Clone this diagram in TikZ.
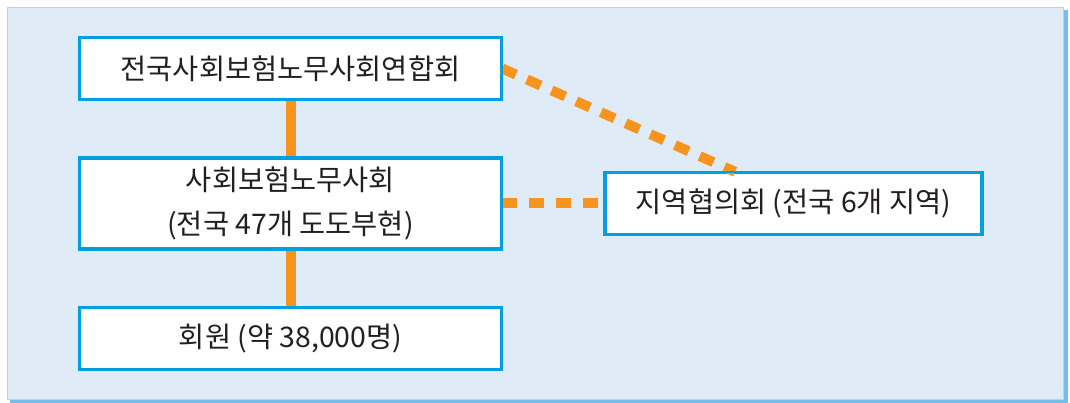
\documentclass[tikz,border=0pt]{standalone}
\usepackage{fontspec}
\setmainfont{Noto Sans CJK KR}
\usepackage{tikz}
\definecolor{bgblue}{HTML}{DFEBF7}
\definecolor{shadowblue}{HTML}{73BEEB}
\definecolor{boxblue}{HTML}{00A0E0}
\definecolor{linkorange}{HTML}{F7941D}
\definecolor{txt}{HTML}{231F20}
\tikzset{
  orgbox/.style={draw=boxblue,line width=1.7pt,fill=white,text=txt,
    minimum width=10.525cm,minimum height=1.525cm,inner sep=0pt,align=center,
    font=\fontsize{20.2}{31}\selectfont},
  solidlink/.style={draw=linkorange,line width=0.25cm},
  dotlink/.style={draw=linkorange,line width=0.25cm,dash pattern=on 0.375cm off 0.3cm}
}

\begin{document}
\begin{tikzpicture}
            \useasboundingbox (0,0) rectangle (26.75,10.075);
            % background panel with its shadow
            \fill[shadowblue] (0.25,0) rectangle (26.7,9.825);
            \filldraw[fill=bgblue,draw=shadowblue!60,line width=0.4pt] (0.175,0.1) rectangle (26.575,9.9);
            % boxes
            \node[orgbox] (union) at (7.2625,8.3625) {전국사회보험노무사회연합회};
            \node[orgbox,minimum height=2.25cm] (assoc) at (7.2625,4.9875) {사회보험노무사회\\(전국 47개 도도부현)};
            \node[orgbox] (member) at (7.2625,1.6125) {회원 (약 38,000명)};
            \node[orgbox,minimum width=9.4cm] (region) at (19.8375,4.9875) {지역협의회 (전국 6개 지역)};
            % links
            \draw[solidlink] (union) -- (assoc);
            \draw[solidlink] (assoc) -- (member);
            \draw[dotlink] (assoc.east) -- (region.west);
            \draw[dotlink] (union.east) -- ([xshift=-1.46cm]region.north);
            % boxes again on top of the link ends
            \foreach \b in {union,assoc,member,region}
                \draw[boxblue,line width=1.7pt] (\b.north west) rectangle (\b.south east);
\end{tikzpicture}
\end{document}
